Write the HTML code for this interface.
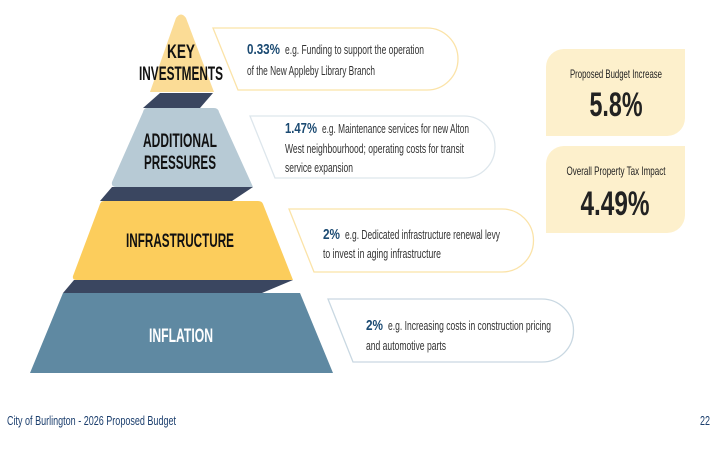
<!DOCTYPE html>
<html><head><meta charset="utf-8"><style>
html,body{margin:0;padding:0;background:#fff;}
svg{display:block;font-family:"Liberation Sans Narrow","Liberation Sans",sans-serif;}
</style></head><body>
<svg width="719" height="449" viewBox="0 0 719 449">
<g>
<polygon points="160,93 213,93 200,108 143,108" fill="#3a4660"/>
<polygon points="112,187 253,187 232,201 100,201" fill="#3a4660"/>
<polygon points="74,280 293,280 262,293 63,293" fill="#3a4660"/>
<path d="M176,18 Q181,11 186,18 L214,92 L150,92 Z" fill="#fbdc96"/>
<path d="M147,108 L214,108 Q218,108 219,112 L253,187 L116,187 Q111,187 112,182 L143,112 Q144,108 147,108 Z" fill="#b7cad5"/>
<path d="M104,201 L258,201 Q262,201 263,204 L293,280 L77,280 Q72,280 73,276 L100,204 Q101,201 104,201 Z" fill="#fccd5c"/>
<polygon points="63,293 300,293 333,373 30,373" fill="#5f89a2"/>
<text x="181" y="58" text-anchor="middle" font-size="19" font-weight="bold" fill="#111" textLength="28" lengthAdjust="spacingAndGlyphs">KEY</text>
<text x="181" y="80" text-anchor="middle" font-size="19" font-weight="bold" fill="#111" textLength="84" lengthAdjust="spacingAndGlyphs">INVESTMENTS</text>
<text x="180" y="147" text-anchor="middle" font-size="19" font-weight="bold" fill="#111" textLength="74" lengthAdjust="spacingAndGlyphs">ADDITIONAL</text>
<text x="180" y="169" text-anchor="middle" font-size="19" font-weight="bold" fill="#111" textLength="72" lengthAdjust="spacingAndGlyphs">PRESSURES</text>
<text x="180" y="247" text-anchor="middle" font-size="19" font-weight="bold" fill="#111" textLength="108" lengthAdjust="spacingAndGlyphs">INFRASTRUCTURE</text>
<text x="181" y="342" text-anchor="middle" font-size="19" font-weight="bold" fill="#fff" textLength="64" lengthAdjust="spacingAndGlyphs">INFLATION</text>
</g>
<g>
<path d="M213,28 L427,28 A31,31 0 0 1 427,90 L238,90 Z" fill="#fff" stroke="#fbe3a8" stroke-width="1.3"/>
<text x="247" y="54" font-size="15" font-weight="bold" fill="#1b4a72" textLength="33" lengthAdjust="spacingAndGlyphs">0.33%</text>
<text x="285" y="54" font-size="12.5" fill="#333" textLength="139" lengthAdjust="spacingAndGlyphs">e.g. Funding to support the operation</text>
<text x="247" y="75" font-size="12.5" fill="#333" textLength="128" lengthAdjust="spacingAndGlyphs">of the New Appleby Library Branch</text>
</g>
<g>
<path d="M250,116 L464,116 A31,31 0 0 1 464,178 L275,178 Z" fill="#fff" stroke="#dde6ec" stroke-width="1.3"/>
<text x="285" y="133" font-size="15" font-weight="bold" fill="#1b4a72" textLength="32" lengthAdjust="spacingAndGlyphs">1.47%</text>
<text x="322" y="133" font-size="12.5" fill="#333" textLength="147" lengthAdjust="spacingAndGlyphs">e.g. Maintenance services for new Alton</text>
<text x="285" y="153" font-size="12.5" fill="#333" textLength="179" lengthAdjust="spacingAndGlyphs">West neighbourhood; operating costs for transit</text>
<text x="285" y="172" font-size="12.5" fill="#333" textLength="68" lengthAdjust="spacingAndGlyphs">service expansion</text>
</g>
<g>
<path d="M289,209 L502,209 A31.5,31.5 0 0 1 502,272 L314,272 Z" fill="#fff" stroke="#fbe3a8" stroke-width="1.3"/>
<text x="323" y="239" font-size="15" font-weight="bold" fill="#1b4a72" textLength="17" lengthAdjust="spacingAndGlyphs">2%</text>
<text x="345" y="239" font-size="12.5" fill="#333" textLength="155" lengthAdjust="spacingAndGlyphs">e.g. Dedicated infrastructure renewal levy</text>
<text x="323" y="258" font-size="12.5" fill="#333" textLength="118" lengthAdjust="spacingAndGlyphs">to invest in aging infrastructure</text>
</g>
<g>
<path d="M328,299 L542,299 A31.5,31.5 0 0 1 542,362 L353,362 Z" fill="#fff" stroke="#c9d8e2" stroke-width="1.3"/>
<text x="366" y="330" font-size="15" font-weight="bold" fill="#1b4a72" textLength="17" lengthAdjust="spacingAndGlyphs">2%</text>
<text x="388" y="330" font-size="12.5" fill="#333" textLength="163" lengthAdjust="spacingAndGlyphs">e.g. Increasing costs in construction pricing</text>
<text x="366" y="350" font-size="12.5" fill="#333" textLength="80" lengthAdjust="spacingAndGlyphs">and automotive parts</text>
</g>
<g>
<path d="M564,49 L685,49 L685,118 A18,18 0 0 1 667,136 L546,136 L546,67 A18,18 0 0 1 564,49 Z" fill="#fdf0cc"/>
<text x="616" y="78" text-anchor="middle" font-size="12" fill="#222" textLength="92" lengthAdjust="spacingAndGlyphs">Proposed Budget Increase</text>
<text x="616" y="116" text-anchor="middle" font-size="34" font-weight="bold" fill="#222" textLength="53" lengthAdjust="spacingAndGlyphs">5.8%</text>
</g>
<g>
<path d="M564,146 L685,146 L685,215 A18,18 0 0 1 667,233 L546,233 L546,164 A18,18 0 0 1 564,146 Z" fill="#fdf0cc"/>
<text x="616" y="175" text-anchor="middle" font-size="12" fill="#222" textLength="99" lengthAdjust="spacingAndGlyphs">Overall Property Tax Impact</text>
<text x="615" y="215" text-anchor="middle" font-size="34" font-weight="bold" fill="#222" textLength="69" lengthAdjust="spacingAndGlyphs">4.49%</text>
</g>
<text x="7" y="425" font-size="13" fill="#1c3f6e" textLength="169" lengthAdjust="spacingAndGlyphs">City of Burlington - 2026 Proposed Budget</text>
<text x="700" y="425" font-size="13" fill="#1c3f6e" textLength="10" lengthAdjust="spacingAndGlyphs">22</text>
</svg>
</body></html>
